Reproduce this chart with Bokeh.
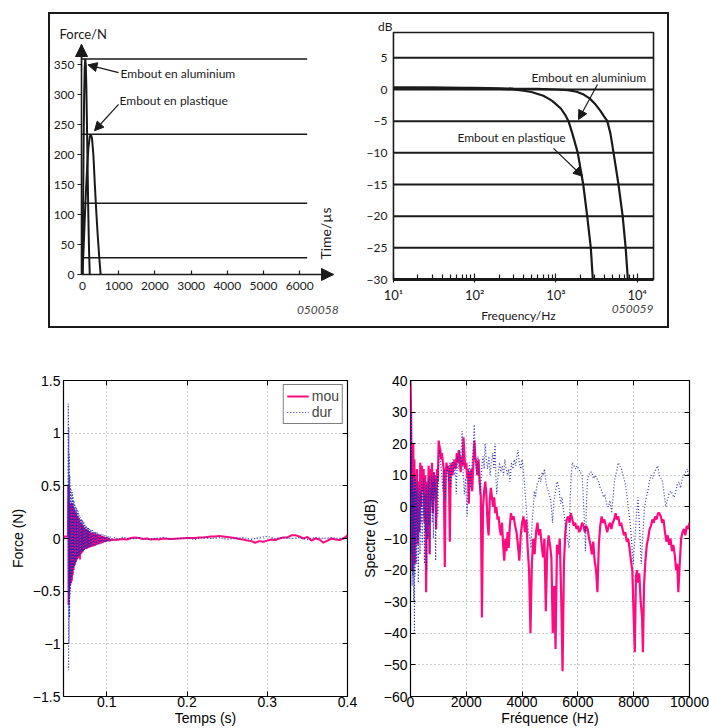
import math
from bokeh.plotting import figure
from bokeh.layouts import row, column
from bokeh.models import (Range1d, FixedTicker, Label, Arrow, NormalHead, LinearAxis, Spacer,
                          BoxAnnotation)
from bokeh.embed import file_html
from bokeh.resources import INLINE

# ---------------- data ----------------
# top-left : force pulses (time in microseconds, force in N)
alu_t = [0, 15, 30, 45, 60, 75, 90, 105, 120, 140, 160, 180, 200]
alu_force = [0, 110, 220, 300, 345, 360, 350, 315, 260, 180, 100, 40, 0]
pla_t = [0, 40, 80, 120, 160, 200, 230, 260, 300, 340, 380, 420, 460, 500]
pla_force = [0, 60, 120, 170, 210, 230, 234, 228, 200, 150, 105, 65, 30, 0]
level_lines = [360, 234, 119, 28]
time_ticks = [0, 1000, 2000, 3000, 4000, 5000, 6000]
force_ticks = [0, 50, 100, 150, 200, 250, 300, 350]

# top-right : transfer function (Hz, dB)
alu_hz = [10, 100, 300, 600, 1000, 1400, 1800, 2200, 2600, 3000, 3500, 3900, 4300, 4700, 5130, 5900, 6640, 7230, 7690]
alu_db = [0.3, 0.25, 0.15, 0.1, 0.0, -0.1, -0.35, -0.8, -1.4, -2.2, -3.3, -4.2, -5.0, -7.0, -10.0, -15.0, -20.0, -25.0, -30.0]
pla_hz = [10, 30, 100, 200, 300, 400, 500, 600, 700, 800, 900, 1000, 1150, 1300, 1430, 1600, 1860, 2170, 2430, 2690, 2850]
pla_db = [0.3, 0.3, 0.2, 0.1, 0.0, -0.2, -0.4, -0.7, -1.0, -1.4, -1.8, -2.3, -3.0, -4.0, -5.0, -7.0, -10.0, -15.0, -20.0, -25.0, -30.0]
db_ticks = [5, 0, -5, -10, -15, -20, -25, -30]
decade_ticks = [10, 100, 1000, 10000]
decade_labels = ["10\u00b9", "10\u00b2", "10\u00b3", "10\u2074"]

# bottom-left : force signals (s, N)
mou_t = [0.046, 0.048, 0.050, 0.0515,
         0.0520, 0.0523, 0.0526, 0.0529, 0.0532, 0.0535, 0.0540, 0.0545, 0.0550, 0.0555,
         0.0560, 0.0565, 0.0570, 0.0575, 0.0580, 0.0585, 0.0590, 0.0595, 0.0600, 0.0605,
         0.0610, 0.0615, 0.0620, 0.0625, 0.0630, 0.0635, 0.0640, 0.0645, 0.0650, 0.0655,
         0.0660, 0.0665, 0.0670, 0.0675, 0.0680, 0.0685, 0.0690, 0.0695, 0.0700, 0.0705,
         0.0710, 0.0715, 0.0720, 0.0730, 0.0740, 0.0750, 0.0760, 0.0770, 0.0780, 0.0790,
         0.080, 0.081, 0.082, 0.083, 0.084, 0.085, 0.086, 0.087, 0.088, 0.089,
         0.090, 0.091, 0.092, 0.093, 0.094, 0.095, 0.096, 0.097, 0.098, 0.099,
         0.100, 0.101, 0.102, 0.104, 0.106, 0.110, 0.115, 0.120, 0.125, 0.130,
         0.135, 0.140, 0.145, 0.150, 0.155, 0.160, 0.165, 0.170, 0.180, 0.190,
         0.200, 0.210, 0.215, 0.220, 0.225, 0.230, 0.235, 0.240, 0.245, 0.250,
         0.255, 0.260, 0.265, 0.270, 0.275, 0.280, 0.285, 0.290, 0.295, 0.300,
         0.305, 0.310, 0.315, 0.320, 0.325, 0.330, 0.335, 0.340, 0.345, 0.350,
         0.355, 0.360, 0.365, 0.370, 0.375, 0.380, 0.385, 0.390, 0.395, 0.400]
mou_force = [0.02, 0.02, 0.02, 0.02,
             0.5, -0.63, 0.3, -0.5, 0.33, -0.45, 0.3, -0.44, 0.32, -0.42,
             0.34, -0.40, 0.33, -0.35, 0.30, -0.30, 0.28, -0.26, 0.26, -0.24,
             0.25, -0.22, 0.23, -0.20, 0.21, -0.19, 0.20, -0.18, 0.19, -0.17,
             0.17, -0.20, 0.15, -0.15, 0.14, -0.14, 0.13, -0.13, 0.12, -0.12,
             0.11, -0.11, 0.10, -0.10, 0.09, -0.10, 0.08, -0.09, 0.07, -0.085,
             0.06, -0.08, 0.055, -0.075, 0.05, -0.07, 0.045, -0.06, 0.04, -0.055,
             0.035, -0.05, 0.03, -0.045, 0.025, -0.04, 0.02, -0.035, 0.015, -0.03,
             0.01, -0.025, 0.0, -0.02, -0.01, -0.015, -0.01, -0.005, -0.01, 0.005,
             0.01, 0.005, -0.005, 0.0, -0.01, -0.005, -0.01, 0.0, -0.005, 0.0,
             0.005, 0.005, 0.01, 0.01, 0.015, 0.02, 0.02, 0.025, 0.02, 0.015,
             0.01, 0.005, -0.005, -0.01, -0.02, -0.025, -0.04, -0.025, -0.03, -0.02,
             -0.01, -0.015, 0.0, 0.01, 0.01, 0.03, 0.03, 0.02, 0.0, 0.015,
             -0.02, 0.0, -0.01, -0.04, -0.02, 0.0, -0.01, -0.015, 0.0, 0.03]
dur_t = [0.046, 0.048, 0.050, 0.0515,
         0.0520, 0.0523, 0.0526, 0.0529, 0.0532, 0.0535, 0.0538, 0.0541, 0.0544, 0.0547,
         0.0550, 0.0555, 0.0560, 0.0565, 0.0570, 0.0575, 0.0580, 0.0585, 0.0590, 0.0595,
         0.0600, 0.0605, 0.0610, 0.0615, 0.0620, 0.0625, 0.0630, 0.0635, 0.0640, 0.0645,
         0.0650, 0.0655, 0.0660, 0.0665, 0.0670, 0.0675, 0.0680, 0.0685, 0.0690, 0.0695,
         0.0700, 0.0705, 0.0710, 0.0715, 0.0720, 0.0725, 0.0730, 0.0735, 0.0740, 0.0745,
         0.0750, 0.0755, 0.0760, 0.0765, 0.0770, 0.0775, 0.0780, 0.0785, 0.0790, 0.0795,
         0.080, 0.081, 0.082, 0.083, 0.084, 0.085, 0.086, 0.087, 0.088, 0.089,
         0.090, 0.091, 0.092, 0.093, 0.094, 0.095, 0.096, 0.097, 0.098, 0.099,
         0.100, 0.101, 0.102, 0.103, 0.104, 0.105,
         0.110, 0.115, 0.120, 0.130, 0.140, 0.150, 0.160, 0.170, 0.180, 0.190,
         0.200, 0.210, 0.220, 0.230, 0.240, 0.250, 0.260, 0.270, 0.280, 0.290,
         0.300, 0.310, 0.320, 0.330, 0.340, 0.350, 0.360, 0.370, 0.380, 0.390, 0.400]
dur_force = [0.01, 0.01, 0.0, 0.01,
             1.28, -1.25, 1.05, -1.0, 0.8, -0.75, 0.6, -0.55, 0.5, -0.5,
             0.48, -0.42, 0.46, -0.36, 0.44, -0.33, 0.40, -0.30, 0.36, -0.27,
             0.33, -0.25, 0.31, -0.23, 0.29, -0.21, 0.28, -0.19, 0.26, -0.18,
             0.24, -0.17, 0.22, -0.16, 0.20, -0.14, 0.19, -0.13, 0.18, -0.12,
             0.17, -0.12, 0.16, -0.11, 0.15, -0.10, 0.13, -0.10, 0.12, -0.09,
             0.11, -0.09, 0.10, -0.085, 0.10, -0.08, 0.09, -0.08, 0.09, -0.075,
             0.085, -0.07, 0.08, -0.07, 0.07, -0.065, 0.065, -0.06, 0.06, -0.06,
             0.05, -0.055, 0.045, -0.05, 0.04, -0.045, 0.035, -0.04, 0.03, -0.035,
             0.025, -0.03, 0.02, -0.03, 0.02, -0.025,
             0.01, -0.01, 0.015, -0.005, 0.01, -0.01, 0.0, 0.01, -0.01, 0.0,
             0.005, -0.01, 0.01, 0.0, 0.01, -0.01, 0.0, 0.01, -0.01, 0.01,
             0.02, 0.0, 0.01, 0.0, 0.01, -0.01, 0.01, 0.0, 0.01, 0.0, 0.01]
sec_ticks = [0.1, 0.2, 0.3, 0.4]
n_ticks = [-1.5, -1, -0.5, 0, 0.5, 1, 1.5]

# bottom-right : spectra (Hz, dB)
mou_hz = [0, 20, 40, 60, 80, 100, 120, 140, 160, 180,
          200, 230, 260, 290, 320, 350, 380, 410, 440, 470,
          500, 530, 560, 590, 620, 650, 680, 710, 740, 770,
          800, 830, 860, 890, 920, 950, 980, 1010, 1040, 1070,
          1100, 1130, 1160, 1190, 1230, 1260, 1290, 1320, 1350, 1380,
          1410, 1440, 1470, 1500, 1540, 1580, 1620, 1660, 1700, 1730,
          1760, 1800, 1830, 1870, 1900, 1930, 1960, 2000, 2030, 2060,
          2090, 2120, 2150, 2180, 2210, 2250, 2290, 2320, 2360, 2400,
          2440, 2480, 2520, 2560, 2600, 2640, 2680, 2720, 2760, 2800,
          2840, 2880, 2920, 2960, 3000, 3040, 3080, 3120, 3160, 3200,
          3240, 3280, 3320, 3360, 3400, 3440, 3480, 3520, 3560, 3600,
          3650, 3700, 3750, 3800, 3850, 3900, 3950, 4000, 4050, 4100,
          4150, 4200, 4250, 4300, 4350, 4400, 4450, 4500, 4550, 4600,
          4650, 4700, 4750, 4800, 4850, 4900, 4950, 5000, 5050, 5100,
          5150, 5200, 5250, 5300, 5350, 5400, 5450, 5500, 5550, 5600,
          5650, 5700, 5750, 5800, 5850, 5900, 5950, 6000, 6050, 6100,
          6150, 6200, 6250, 6300, 6350, 6400, 6450, 6500, 6550, 6600,
          6650, 6700, 6750, 6800, 6850, 6900, 6950, 7000, 7050, 7100,
          7150, 7200, 7250, 7300, 7350, 7400, 7450, 7500, 7550, 7600,
          7650, 7700, 7750, 7800, 7850, 7900, 7950, 8000, 8040, 8080,
          8120, 8160, 8200, 8250, 8300, 8330, 8370, 8420, 8470, 8520,
          8570, 8620, 8670, 8720, 8770, 8820, 8870, 8920, 8970, 9020,
          9070, 9120, 9170, 9220, 9270, 9320, 9370, 9420, 9470, 9520,
          9560, 9600, 9650, 9700, 9750, 9800, 9850, 9900, 9950, 10000]
mou_db = [40, 30, 10, -20, 5, 20, -10, 15, -18, 10,
          -5, 12, -12, 8, -8, 14, 0, 13, 5, 12,
          -5, 10, -27, 8, -10, 13, -15, 12, 2, 14,
          -2, 11, 5, 10, -7, 12, 8, 21, 19, 18,
          15, 17, 14, 12, -19, 10, 14, 11, 13, 9,
          -11, 12, 14, 10, 13, 15, 12, 17, 14, 18,
          15, 11, 16, 13, 22, 17, 12, 14, 9, 12,
          1, 11, 8, 12, 5, 13, 21, 16, 14, 10,
          15, 8, 3, -35, 0, 5, 8, 4, -5, -9,
          2, 6, 3, 0, 3, -2, 0, -4, -3, -7,
          -9, -5, -12, -17, -10, -14, -8, -13, -6, -2,
          -4, -3, -6, -8, -12, -17, -9, -5, -3, -8,
          -4, -13, -20, -40, -18, -10, -15, -8, -5, -9,
          -7, -12, -16, -10, -33, -14, -9, -12, -16, -40,
          -25, -45, -12, -15, -10, -28, -52, -18, -8, -4,
          -3, -5, -2, -4, -6, -5, -7, -6, -8, -7,
          -5, -6, -8, -6, -7, -10, -12, -15, -11, -17,
          -20, -27, -12, -6, -3, -5, -4, -6, -8, -6,
          -5, -7, -5, -4, -2, -4, -3, -6, -5, -7,
          -9, -8, -11, -10, -13, -17, -20, -35, -46, -22,
          -20, -24, -21, -30, -35, -46, -25, -17, -12, -10,
          -7, -6, -4, -5, -3, -4, -2, -2, -3, -5,
          -4, -8, -11, -9, -12, -10, -14, -12, -15, -20,
          -18, -27, -18, -10, -8, -7, -9, -6, -7, -5]
dur_hz = [0, 10, 20, 30, 40, 50, 60, 70, 80, 90,
          100, 110, 120, 130, 140, 150, 160, 175, 190, 205,
          220, 235, 250, 265, 280, 295, 310, 325, 340, 360,
          380, 400, 420, 440, 460, 480, 500, 520, 540, 560,
          580, 600, 620, 640, 660, 680, 700, 720, 740, 760,
          780, 800, 820, 840, 860, 880, 900, 920, 940, 960,
          980, 1000, 1040, 1080, 1120, 1160, 1200, 1240, 1280, 1320,
          1360, 1400, 1440, 1480, 1520, 1560, 1600, 1640, 1680, 1720,
          1760, 1800, 1850, 1890, 1930, 1970, 2030, 2070, 2110, 2150,
          2190, 2230, 2285, 2330, 2370, 2420, 2460, 2500, 2550, 2600,
          2640, 2675, 2720, 2760, 2810, 2850, 2900, 2950, 2990, 3030,
          3060, 3090, 3140, 3190, 3240, 3290, 3340, 3380, 3430, 3480,
          3520, 3560, 3620, 3670, 3720, 3770, 3810, 3850, 3900, 3950,
          4000, 4030, 4080, 4130, 4180, 4230, 4280, 4320, 4360, 4400,
          4440, 4480, 4530, 4580, 4620, 4670, 4720, 4760, 4800, 4850,
          4900, 4970, 5030, 5090, 5140, 5200, 5260, 5320, 5380, 5430,
          5470, 5530, 5580, 5630, 5680, 5720, 5760, 5800, 5860, 5920,
          5970, 6030, 6080, 6150, 6200, 6240, 6270, 6310, 6340, 6380,
          6440, 6500, 6560, 6620, 6680, 6740, 6800, 6860, 6920, 6970,
          7030, 7090, 7150, 7210, 7260, 7310, 7360, 7400, 7450, 7500,
          7560, 7620, 7680, 7740, 7800, 7860, 7920, 7980, 8030, 8080,
          8150, 8200, 8240, 8270, 8320, 8390, 8450, 8510, 8560, 8620,
          8680, 8740, 8800, 8860, 8920, 8980, 9035, 9090, 9150, 9200,
          9260, 9330, 9390, 9450, 9510, 9560, 9620, 9680, 9740, 9800,
          9860, 9920, 9960, 10000]
dur_db = [35, 25, -5, 30, -15, 18, -25, 10, -22, 8,
          -20, 5, -30, 10, -40, 6, -22, 9, -12, 5,
          -18, 8, -10, 6, -24, 4, -8, 7, -15, 5,
          -5, 8, -12, 6, -3, 9, -18, 4, -8, 7,
          -20, 5, -10, 9, -6, 10, -15, 6, 0, 10,
          -5, 8, -10, 11, 2, 9, -17, 6, 3, 10,
          -3, 12, 18, 14, 10, 5, 12, 2, 9, 13,
          8, 14, 6, 13, 15, 10, 14, 4, 16, 12,
          18, 14, 24, 10, 4, 9, -3, 8, 14, 6,
          12, 16, 26, 14, 10, 16, 8, 4, 12, 16,
          12, 20, 15, 12, 16, 10, 14, 17, 12, 20,
          10, 4, 10, 14, 11, 13, 10, 15, 12, 10,
          12, 8, 14, 12, 15, 13, 16, 18, 14, 12,
          15, 13, 8, 2, -4, -8, -10, -13, -5, 0,
          5, 3, 7, 8, 10, 8, 11, 10, 12, 8,
          6, 4, 2, -5, 2, 5, 8, 6, 1, 3,
          0, -4, -8, -10, -13, 2, 10, 14, 13, 12,
          13, 12, 11, 10, 2, -6, -14, 2, 8, 10,
          11, 11, 9, 10, 9, 8, 6, 5, 3, 4,
          1, 0, 2, -2, 3, 8, 10, 12, 14, 13,
          12, 10, 8, 5, 0, -4, -10, -18, -12, -5,
          3, -5, -12, -18, -10, 0, 3, 5, 8, 10,
          9, 11, 12, 13, 10, 9, 8, 4, 0, 2,
          4, 5, 4, 3, 5, 7, 8, 6, 9, 10,
          11, 12, 10, 10]
hz_ticks = [0, 2000, 4000, 6000, 8000, 10000]
spec_ticks = [-60, -50, -40, -30, -20, -10, 0, 10, 20, 30, 40]

# ---------------- styles ----------------
TF = "Lato"
BF = "Liberation Sans"
INK = "#1a1a1a"
PINK = "#ff0a80"
BLUE = "#1c22b0"


def minus(v):
    return ("%g" % v).replace("-", "\u2212")


def lab(p, x, y, text, font=TF, size="12px", align="left", base="middle", angle=0.0,
        color=INK, style="normal"):
    p.add_layout(Label(x=x, y=y, text=text, text_font=font, text_font_size=size,
                       text_align=align, text_baseline=base, angle=angle,
                       text_color=color, text_font_style=style))


def arrow(p, x0, y0, x1, y1, size=9):
    p.add_layout(Arrow(end=NormalHead(size=size, fill_color=INK, line_color=INK, line_width=1),
                       x_start=x0, y_start=y0, x_end=x1, y_end=y1,
                       line_color=INK, line_width=1.2))


def line_style_axis(ax, size="12px"):
    ax.major_label_text_font = TF
    ax.major_label_text_font_size = size
    ax.major_label_text_color = INK
    ax.major_tick_line_color = INK
    ax.minor_tick_line_color = INK
    ax.major_tick_line_width = 1.2
    ax.minor_tick_line_width = 1.2


# ---------------- top-left (frame = whole canvas, axes at fixed places) ----------------
p1 = figure(width=300, height=312, x_range=Range1d(-885, 7404), y_range=Range1d(-86.8, 434.1),
            output_backend="svg", toolbar_location=None, title=None, min_border=0)
p1.outline_line_color = None
p1.grid.visible = False
xa, ya = p1.xaxis[0], p1.yaxis[0]
for ax in (xa, ya):
    line_style_axis(ax)
    ax.axis_line_color = INK
    ax.axis_line_width = 1.6
    ax.minor_tick_in = 0
    ax.minor_tick_out = 0
xa.fixed_location = 0
xa.bounds = (-28, 6934)
ya.fixed_location = -28
ya.bounds = (0, 384)
xa.ticker = FixedTicker(ticks=time_ticks)
ya.ticker = FixedTicker(ticks=force_ticks)
xa.major_tick_in = 4
xa.major_tick_out = 0
xa.major_label_standoff = 7
ya.major_tick_in = 0
ya.major_tick_out = 4
ya.major_label_standoff = 3

p1.segment(x0=[-28] * len(level_lines), y0=level_lines, x1=[6207] * len(level_lines), y1=level_lines,
           line_color=INK, line_width=1.5)
p1.line(pla_t, pla_force, line_color=INK, line_width=2)
p1.line(alu_t, alu_force, line_color=INK, line_width=2)
arrow(p1, 6500, 0, 6934, 0, size=12)
arrow(p1, -28, 340, -28, 384, size=12)
lab(p1, -636, 402, "Force/N", size="13px")
lab(p1, 1050, 335.6, "Embout en aluminium")
lab(p1, 1023, 290.5, "Embout en plastique")
arrow(p1, 995, 337, 150, 350)
arrow(p1, 995, 284, 331, 240)
lab(p1, 6718, 68.4, "Time/\u00b5s", size="14px", align="center", angle=math.pi / 2)
lab(p1, 7077, -60, "050058", align="right", color="#444444", style="italic")

# ---------------- top-right ----------------
p2 = figure(width=317, height=312, x_axis_type="log", x_range=Range1d(2.958, 23668),
            y_range=Range1d(-37.42, 11.842), output_backend="svg", toolbar_location=None,
            title=None, min_border=0)
p2.outline_line_color = None
p2.grid.visible = False
grid_levels = db_ticks[:-1]
p2.segment(x0=[10] * len(grid_levels), y0=grid_levels, x1=[15920] * len(grid_levels),
           y1=grid_levels, line_color=INK, line_width=2)
p2.add_layout(BoxAnnotation(left=10, right=15920, bottom=-30, top=9, fill_color=None,
                            fill_alpha=0, line_color=INK, line_alpha=1.0, line_width=1.6))
xb, yb = p2.xaxis[0], p2.yaxis[0]
line_style_axis(xb, "13px")
line_style_axis(yb)
xb.fixed_location = -30
xb.bounds = (10, 15920)
yb.fixed_location = 10
yb.bounds = (-30, 9)
xb.ticker = FixedTicker(ticks=decade_ticks,
                        minor_ticks=[m * d for d in (10, 100, 1000) for m in range(2, 10)])
xb.major_label_overrides = dict(zip(decade_ticks, decade_labels))
yb.ticker = FixedTicker(ticks=db_ticks)
yb.major_label_overrides = {t: minus(t) for t in db_ticks}
yb.axis_line_color = None
yb.major_tick_in = 0
yb.major_tick_out = 0
yb.minor_tick_in = 0
yb.minor_tick_out = 0
yb.major_label_standoff = 6
xb.axis_line_color = INK
xb.axis_line_width = 3
xb.major_tick_in = 6
xb.major_tick_out = 3
xb.minor_tick_in = 5
xb.minor_tick_out = 0
xb.major_label_standoff = 4

p2.line(pla_hz, pla_db, line_color=INK, line_width=2.2)
p2.line(alu_hz, alu_db, line_color=INK, line_width=2.2)
lab(p2, 9.7, 9.95, "dB", align="right")
lab(p2, 346, -35.7, "Frequency/Hz", align="center")
lab(p2, 15920, -34.6, "050059", align="right", color="#444444", style="italic")
lab(p2, 500, 1.9, "Embout en aluminium")
lab(p2, 61.4, -7.58, "Embout en plastique")
arrow(p2, 3250, 0.8, 1897, -4.74)
arrow(p2, 934, -9.3, 2128, -13.7)

top_box = row(p1, p2, styles={"border": "2px solid #1a1a1a"})


# ---------------- bottom panels ----------------
def matlab_axes(p, xt, yt, xlabels, ylabels, xgrid, ygrid, xlabel, ylabel, ystandoff):
    p.outline_line_color = "black"
    p.outline_line_width = 1.2
    p.xaxis.ticker = FixedTicker(ticks=xt)
    p.yaxis.ticker = FixedTicker(ticks=yt)
    p.xaxis.major_label_overrides = dict(zip(xt, xlabels))
    p.yaxis.major_label_overrides = dict(zip(yt, ylabels))
    p.xgrid.ticker = FixedTicker(ticks=xgrid)
    p.ygrid.ticker = FixedTicker(ticks=ygrid)
    for g in (p.xgrid[0], p.ygrid[0]):
        g.grid_line_color = "#9a9a9a"
        g.grid_line_dash = "1 3"
        g.grid_line_width = 1
    for ax in (p.xaxis[0], p.yaxis[0]):
        ax.axis_line_color = None
        ax.major_tick_in = 5
        ax.major_tick_out = 0
        ax.minor_tick_in = 0
        ax.minor_tick_out = 0
        ax.major_tick_line_color = "black"
        ax.major_label_text_font = BF
        ax.major_label_text_font_size = "14px"
        ax.major_label_text_color = "black"
        ax.axis_label_text_font = BF
        ax.axis_label_text_font_size = "14px"
        ax.axis_label_text_font_style = "normal"
        ax.axis_label_text_color = "black"
    p.xaxis.major_label_standoff = 0
    p.xaxis.axis_label = xlabel
    p.xaxis.axis_label_standoff = 0
    p.yaxis.major_label_standoff = 3
    p.yaxis.axis_label = ylabel
    p.yaxis.axis_label_standoff = ystandoff
    for side, ticks in (("above", xt), ("right", yt)):
        ax = LinearAxis(ticker=FixedTicker(ticks=ticks),
                        major_label_overrides={t: "" for t in ticks},
                        major_label_standoff=0, major_label_text_font_size="1px",
                        major_tick_in=5, major_tick_out=0, minor_tick_in=0, minor_tick_out=0,
                        axis_line_color=None, major_tick_line_color="black")
        p.add_layout(ax, side)


p3 = figure(width=358, height=392, x_range=Range1d(0.046, 0.4), y_range=Range1d(-1.5, 1.5),
            output_backend="svg", toolbar_location=None, title=None,
            min_border_left=63, min_border_right=11, min_border_top=44, min_border_bottom=32)
matlab_axes(p3, sec_ticks, n_ticks, ["0.1", "0.2", "0.3", "0.4"], [minus(v) for v in n_ticks],
            [0.1, 0.2, 0.3], [-1, -0.5, 0, 0.5, 1], "Temps (s)", "Force (N)", 4)
p3.line(mou_t, mou_force, line_color=PINK, line_width=2, legend_label="mou")
p3.line(dur_t, dur_force, line_color=BLUE, line_width=1.2, line_dash="1 2", line_alpha=0.9,
        legend_label="dur")
lg = p3.legend[0]
lg.location = "top_right"
lg.margin = 4
lg.padding = 3
lg.spacing = 0
lg.glyph_width = 22
lg.glyph_height = 16
lg.label_height = 16
lg.label_standoff = 3
lg.label_text_font = BF
lg.label_text_font_size = "14px"
lg.border_line_color = "black"
lg.border_line_width = 1
lg.background_fill_alpha = 1

p4 = figure(width=351, height=392, x_range=Range1d(0, 10000), y_range=Range1d(-60, 40),
            output_backend="svg", toolbar_location=None, title=None,
            min_border_left=48, min_border_right=20, min_border_top=44, min_border_bottom=32)
matlab_axes(p4, hz_ticks, spec_ticks, ["%d" % v for v in hz_ticks], [minus(v) for v in spec_ticks],
            [2000, 4000, 6000, 8000], [-50, -40, -30, -20, -10, 0, 10, 20, 30],
            "Fr\u00e9quence (Hz)", "Spectre (dB)", 3)
p4.line(mou_hz, mou_db, line_color=PINK, line_width=2.2)
p4.line(dur_hz, dur_db, line_color=BLUE, line_width=1.2, line_dash="1 2", line_alpha=0.9)

layout = column(
    Spacer(width=10, height=12),
    row(Spacer(width=48, height=316), top_box),
    Spacer(width=10, height=8),
    row(p3, p4),
)

open("out.html", "w").write(file_html(layout, INLINE))
